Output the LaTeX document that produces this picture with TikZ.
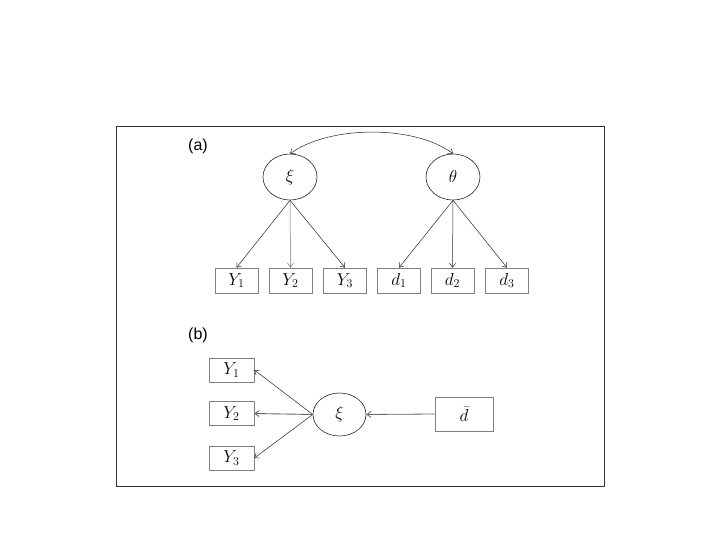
\documentclass[tikz,border=0pt]{standalone}
\usepackage{fontspec}
\setsansfont{Liberation Sans}
\usetikzlibrary{arrows.meta,shapes.geometric}
\begin{document}
\begin{tikzpicture}[x=1pt,y=-1pt,
  obs/.style={draw=black!50,line width=0.7pt,minimum width=43pt,minimum height=25pt,inner sep=0pt,font=\fontsize{18}{20}\selectfont},
  lat/.style={draw=black!85,line width=0.6pt,ellipse,minimum width=54pt,minimum height=46pt,inner sep=0pt,font=\fontsize{17}{20}\selectfont},
  arr/.style={draw=black!85,line width=0.5pt,-{Straight Barb[length=4pt,width=6pt]}},
  lbl/.style={font=\sffamily\fontsize{16}{18}\selectfont}]
\useasboundingbox (0,0) rectangle (720,540);
\fill[white] (0,0) rectangle (720,540);
\draw[line width=0.8pt,black!80] (116,126) rectangle (604,486);
\node[lbl] (la) at (198,146) {(a)};
\node[lbl] (lb) at (198,335) {(b)};
% panel (a)
\node[lat] (xi) at (290,177) {$\xi$};
\node[lat] (th) at (453,177) {$\theta$};
\node[obs] (y1) at (236.5,280.5) {$Y_1$};
\node[obs] (y2) at (290.5,280.5) {$Y_2$};
\node[obs] (y3) at (345,280.5) {$Y_3$};
\node[obs] (d1) at (399,280.5) {$d_1$};
\node[obs] (d2) at (452.5,280.5) {$d_2$};
\node[obs] (d3) at (507,280.5) {$d_3$};
\draw[arr,{Straight Barb[length=4pt,width=6pt]}-{Straight Barb[length=4pt,width=6pt]}] (xi.north) .. controls (330,125) and (415,125) .. (th.north);
\draw[arr] (xi.south) -- (y1.north);
\draw[arr,draw=black!55] (xi.south) -- (y2.north);
\draw[arr] (xi.south) -- (y3.north);
\draw[arr] (th.south) -- (d1.north);
\draw[arr] (th.south) -- (d2.north);
\draw[arr] (th.south) -- (d3.north);
% panel (b)
\node[lat,minimum width=53pt,minimum height=43pt] (xib) at (339.5,414.5) {$\xi$};
\node[obs,minimum width=45pt,minimum height=24pt] (b1) at (231.5,370) {$Y_1$};
\node[obs,minimum width=45pt,minimum height=24pt] (b2) at (231.5,413.5) {$Y_2$};
\node[obs,minimum width=45pt,minimum height=24pt] (b3) at (231.5,458) {$Y_3$};
\node[obs,minimum width=58pt,minimum height=34pt] (db) at (464,414) {$\bar{d}$};
\draw[arr] (xib.west) -- (b1.east);
\draw[arr,line width=0.9pt,draw=black!60] (xib.west) -- (b2.east);
\draw[arr] (xib.west) -- (b3.east);
\draw[arr,draw=black!60,line width=0.8pt] (db.west) -- (xib.east);
\end{tikzpicture}
\end{document}
